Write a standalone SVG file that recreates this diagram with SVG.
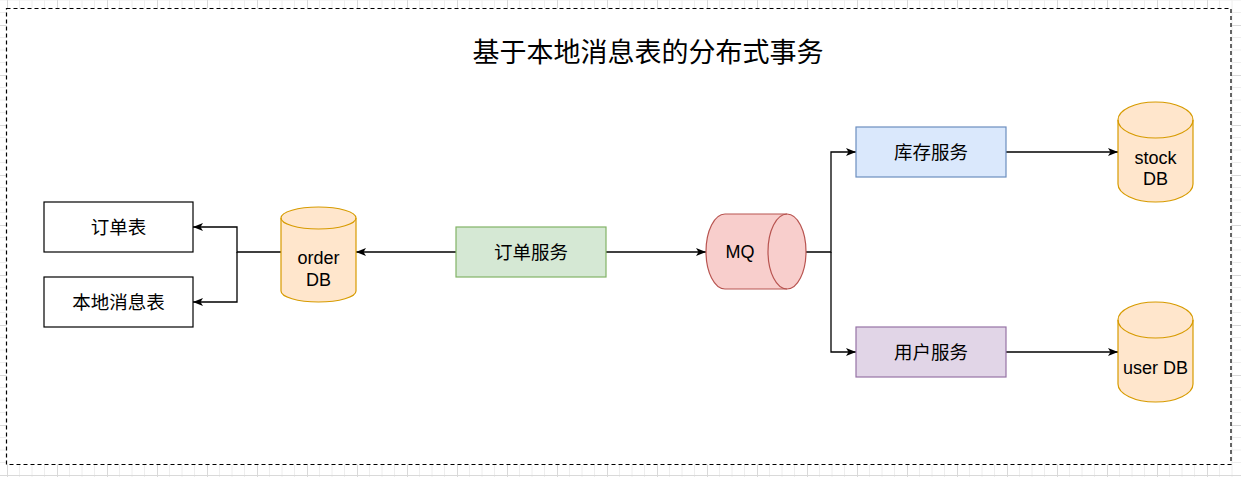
<svg xmlns="http://www.w3.org/2000/svg" width="1241" height="477" viewBox="0 0 1241 477">
  <defs>
    <pattern id="grid" patternUnits="userSpaceOnUse" x="7" y="25" width="50" height="50">
      <path d="M12.5,0V50M25,0V50M37.5,0V50M0,12.5H50M0,25H50M0,37.5H50" stroke="#eeeeee" stroke-width="1" fill="none"/>
      <path d="M0.5,0V50M0,0.5H50" stroke="#d9d9d9" stroke-width="1" fill="none"/>
    </pattern>
    <marker id="arr" markerUnits="userSpaceOnUse" markerWidth="11" markerHeight="9" refX="10" refY="4.5" orient="auto">
      <path d="M0,0.5 L10,4.5 L0,8.5 L2.5,4.5 Z" fill="#000"/>
    </marker>
    <style>
      text { font-family: "Liberation Sans", "Noto Sans CJK SC", sans-serif; font-size: 18px; fill: #000; text-anchor: middle; dominant-baseline: central; }
      .cjk { font-size: 18.5px; }
      .title { font-size: 27px; }
      .plain { fill: #ffffff; stroke: #000; stroke-width: 1.2; }
      .db { fill: #ffe6cc; stroke: #d79b00; stroke-width: 1.2; }
      .dbl { fill: none; stroke: #d79b00; stroke-width: 1.2; }
      .mq { fill: #f8cecc; stroke: #b85450; stroke-width: 1.2; }
      .mql { fill: none; stroke: #b85450; stroke-width: 1.2; }
      .green { fill: #d5e8d4; stroke: #82b366; stroke-width: 1.2; }
      .blue { fill: #dae8fc; stroke: #6c8ebf; stroke-width: 1.2; }
      .purple { fill: #e1d5e7; stroke: #9673a6; stroke-width: 1.2; }
      .edge { fill: none; stroke: #000; stroke-width: 1.3; }
    </style>
  </defs>

  <rect x="0" y="0" width="1241" height="477" fill="#ffffff"/>
  <rect x="0" y="0" width="1241" height="477" fill="url(#grid)"/>

  <g id="frame">
    <rect x="6.5" y="8.5" width="1224.5" height="456" fill="#ffffff" stroke="#000" stroke-width="1.2" stroke-dasharray="4 3"/>
  </g>

  <g id="title">
    <text class="title" x="648" y="53">基于本地消息表的分布式事务</text>
  </g>

  <g id="connectors">
    <path class="edge" d="M281,252 H237 V227 H193" marker-end="url(#arr)"/>
    <path class="edge" d="M237,252 V302 H193" marker-end="url(#arr)"/>
    <path class="edge" d="M456,252 H356" marker-end="url(#arr)"/>
    <path class="edge" d="M606,252 H706" marker-end="url(#arr)"/>
    <path class="edge" d="M806,252 H831 V152 H856" marker-end="url(#arr)"/>
    <path class="edge" d="M831,252 V352 H856" marker-end="url(#arr)"/>
    <path class="edge" d="M1006,152 H1118" marker-end="url(#arr)"/>
    <path class="edge" d="M1006,352 H1118" marker-end="url(#arr)"/>
  </g>

  <g id="order-table">
    <rect class="plain" x="44" y="202" width="149" height="50"/>
    <text class="cjk" x="118.5" y="227">订单表</text>
  </g>

  <g id="local-msg-table">
    <rect class="plain" x="44" y="277" width="149" height="50"/>
    <text class="cjk" x="118.5" y="302">本地消息表</text>
  </g>

  <g id="order-db">
    <path class="db" d="M281,218 A37.5,11 0 0 1 356,218 V291 A37.5,11 0 0 1 281,291 Z"/>
    <path class="dbl" d="M281,218 A37.5,11 0 0 0 356,218"/>
    <text x="318.5" y="258">order</text>
    <text x="318.5" y="280">DB</text>
  </g>

  <g id="order-service">
    <rect class="green" x="456" y="227" width="150" height="50"/>
    <text class="cjk" x="531" y="252">订单服务</text>
  </g>

  <g id="mq">
    <path class="mq" d="M725,214 H787 A19,37.5 0 0 1 787,289 H725 A19,37.5 0 0 1 725,214 Z"/>
    <path class="mql" d="M787,214 A19,37.5 0 0 0 787,289"/>
    <text x="740" y="252">MQ</text>
  </g>

  <g id="stock-service">
    <rect class="blue" x="856" y="127" width="150" height="50"/>
    <text class="cjk" x="931" y="152">库存服务</text>
  </g>

  <g id="user-service">
    <rect class="purple" x="856" y="327" width="150" height="50"/>
    <text class="cjk" x="931" y="352">用户服务</text>
  </g>

  <g id="stock-db">
    <path class="db" d="M1118,120 A37.5,18 0 0 1 1193,120 V184 A37.5,18 0 0 1 1118,184 Z"/>
    <path class="dbl" d="M1118,120 A37.5,18 0 0 0 1193,120"/>
    <text x="1155.5" y="158">stock</text>
    <text x="1155.5" y="179">DB</text>
  </g>

  <g id="user-db">
    <path class="db" d="M1118,320 A37.5,18 0 0 1 1193,320 V384 A37.5,18 0 0 1 1118,384 Z"/>
    <path class="dbl" d="M1118,320 A37.5,18 0 0 0 1193,320"/>
    <text x="1155.5" y="368">user DB</text>
  </g>
</svg>
